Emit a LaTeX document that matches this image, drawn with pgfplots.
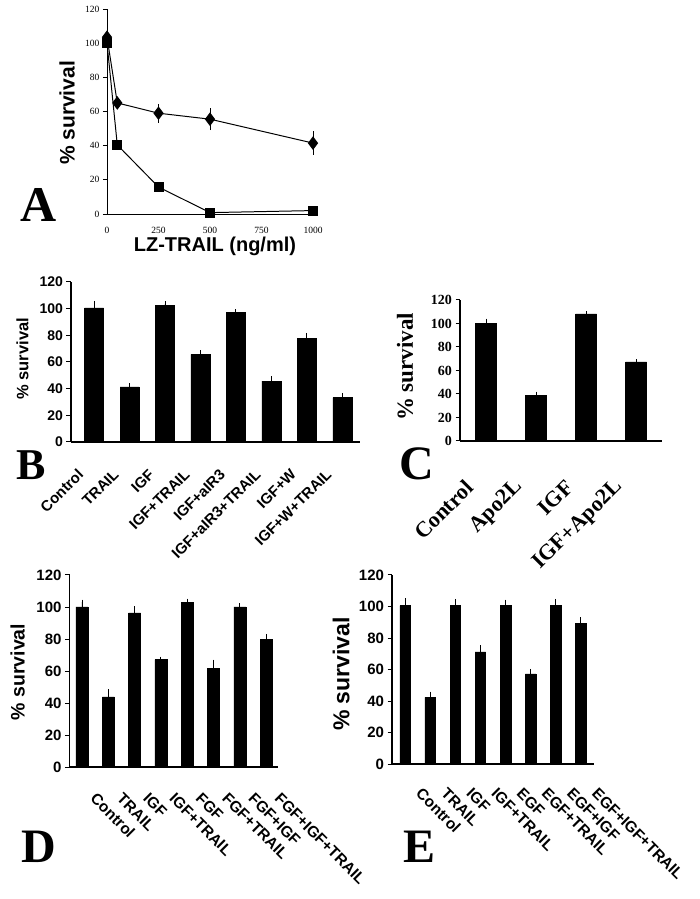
\documentclass[border=0pt]{standalone}
\usepackage{fontspec}
\setmainfont{Liberation Serif}
\setsansfont{Liberation Sans}
\usepackage{pgfplots}
\pgfplotsset{compat=1.18}

\newcommand{\fs}[1]{\fontsize{#1bp}{#1bp}\selectfont}

\pgfplotsset{
  panel/.style={
    scale only axis, anchor=south west, clip=false,
    ymin=0, ymax=120, ytick={0,20,...,120},
    axis x line=bottom, axis y line=left,
    axis line style={-, line width=1.1pt},
    tick align=outside, ytick style={black, line width=1pt},
    xtick style={draw=none}, major tick length=4.5bp,
    /pgf/number format/assume math mode=true,
    xtick=data,
  },
  bars/.style={
    ybar, fill=black, draw=black, bar width=#1,
    error bars/.cd, y dir=plus, y explicit,
    error bar style={black, line width=0.9pt},
    error mark options={black, line width=0.9pt, mark size=2.5bp},
  },
}

\begin{document}
\begin{tikzpicture}
\useasboundingbox (0,0) rectangle (700bp,899bp);

% ---- A: dose response
\begin{axis}[panel,
  at={(107bp,685bp)}, width=206bp, height=205bp,
  xmin=0, xmax=1000, xtick={0,250,500,750,1000},
  axis line style={-, line width=0.8pt}, ytick style={black, line width=0.7pt},
  major tick length=4bp,
  ticklabel style={font=\rmfamily\fs{9.5}},
  xticklabel style={yshift=-6bp},
  /pgf/number format/1000 sep={},
  ylabel={\% survival}, xlabel={LZ-TRAIL (ng/ml)},
  ylabel style={font=\sffamily\bfseries\fs{21}, at={(axis description cs:-0.194,0.493)}, anchor=center},
  xlabel style={font=\sffamily\bfseries\fs{20}, at={(axis description cs:0.524,-0.158)}, anchor=center},
]
\addplot[black, line width=1pt, mark=diamond*, mark size=6bp,
  error bars/.cd, y dir=both, y explicit,
  error bar style={black, line width=0.8pt},
  error mark options={black, line width=0.8pt, mark size=2.5bp}]
  table[x=x, y=y, y error=e] {
x y e
0 103.5 4
50 65 1
250 59 4
500 55.5 5
1000 41.5 5.5
};
\addplot[black, line width=1pt, mark=square*, mark size=4.5bp]
  table[x=x, y=y] {
x y
0 100
50 40.4
250 15.8
500 0.8
1000 2
};
\end{axis}

% ---- B
\begin{axis}[panel,
  at={(71bp,457bp)}, width=289bp, height=160bp,
  xmin=-0.65, xmax=7.5,
  yticklabel style={font=\sffamily\bfseries\fs{14}},
  xticklabels={Control,TRAIL,IGF,IGF+TRAIL,IGF+aIR3,IGF+aIR3+TRAIL,IGF+W,IGF+W+TRAIL},
  xticklabel style={font=\sffamily\bfseries\fs{15}, xshift=-11bp, yshift=-23bp, rotate=45, anchor=east},
  ylabel={\% survival},
  ylabel style={font=\sffamily\bfseries\fs{16.5}, at={(axis description cs:-0.168,0.52)}, anchor=center},
]
\addplot[bars=19bp] table[x=x, y=y, y error=e] {
x y e
0 100.5 3.5
1 41.4 0.7
2 102.3 1.2
3 65.8 1
4 97 0.7
5 45.6 2
6 77.6 2.4
7 33.3 1.7
};
\end{axis}

% ---- C
\begin{axis}[panel,
  at={(460bp,458bp)}, width=202bp, height=141bp,
  xmin=-0.52, xmax=3.52,
  yticklabel style={font=\rmfamily\bfseries\fs{14}},
  xticklabels={Control,Apo2L,IGF,IGF+Apo2L},
  xticklabel style={font=\rmfamily\bfseries\fs{22}, xshift=-14bp, yshift=-36bp, rotate=45, anchor=east},
  ylabel={\% survival},
  ylabel style={font=\rmfamily\bfseries\fs{23}, at={(axis description cs:-0.272,0.525)}, anchor=center},
]
\addplot[bars=21bp] table[x=x, y=y, y error=e] {
x y e
0 100.4 1.7
1 38.7 1.1
2 108.2 0
3 67.3 0
};
\end{axis}

% ---- D
\begin{axis}[panel,
  at={(69.5bp,132bp)}, width=208.5bp, height=192bp,
  xmin=-0.475, xmax=7.45,
  yticklabel style={font=\sffamily\bfseries\fs{15}},
  xticklabels={Control,TRAIL,IGF,IGF+TRAIL,FGF,FGF+TRAIL,FGF+IGF,FGF+IGF+TRAIL},
  xticklabel style={font=\sffamily\bfseries\fs{15.5}, xshift=9bp, yshift=-22bp, rotate=-45, anchor=west},
  ylabel={\% survival},
  ylabel style={font=\sffamily\bfseries\fs{19.5}, at={(axis description cs:-0.249,0.495)}, anchor=center},
]
\addplot[bars=12bp] table[x=x, y=y, y error=e] {
x y e
0 100 3
1 43.9 3
2 96.3 2.7
3 67.1 0.3
4 102.7 1
5 61.8 3.7
6 100 0.8
7 79.8 1.8
};
\end{axis}

% ---- E
\begin{axis}[panel,
  at={(392bp,135bp)}, width=202bp, height=189bp,
  xmin=-0.52, xmax=7.52,
  yticklabel style={font=\sffamily\bfseries\fs{15}},
  xticklabels={Control,TRAIL,IGF,IGF+TRAIL,EGF,EGF+TRAIL,EGF+IGF,EGF+IGF+TRAIL},
  xticklabel style={font=\sffamily\bfseries\fs{15.5}, xshift=11.5bp, yshift=-20bp, rotate=-45, anchor=west},
  ylabel={\% survival},
  ylabel style={font=\sffamily\bfseries\fs{23}, at={(axis description cs:-0.252,0.476)}, anchor=center},
]
\addplot[bars=10.5bp] table[x=x, y=y, y error=e] {
x y e
0 100.6 3.2
1 42.3 2.1
2 100.6 2.7
3 71.2 2.7
4 100.6 2.1
5 57.3 1.5
6 100.6 2.7
7 89.2 2.3
};
\end{axis}

% panel letters
\node[font=\rmfamily\bfseries\fs{50}, anchor=base, inner sep=0] at (39bp,677bp) {A};
\node[font=\rmfamily\bfseries\fs{44}, anchor=base, inner sep=0] at (31bp,419bp) {B};
\node[font=\rmfamily\bfseries\fs{48}, anchor=base, inner sep=0] at (417bp,419bp) {C};
\node[font=\rmfamily\bfseries\fs{48}, anchor=base, inner sep=0] at (39bp,37bp) {D};
\node[font=\rmfamily\bfseries\fs{48}, anchor=base, inner sep=0] at (420bp,37bp) {E};
\end{tikzpicture}
\end{document}
